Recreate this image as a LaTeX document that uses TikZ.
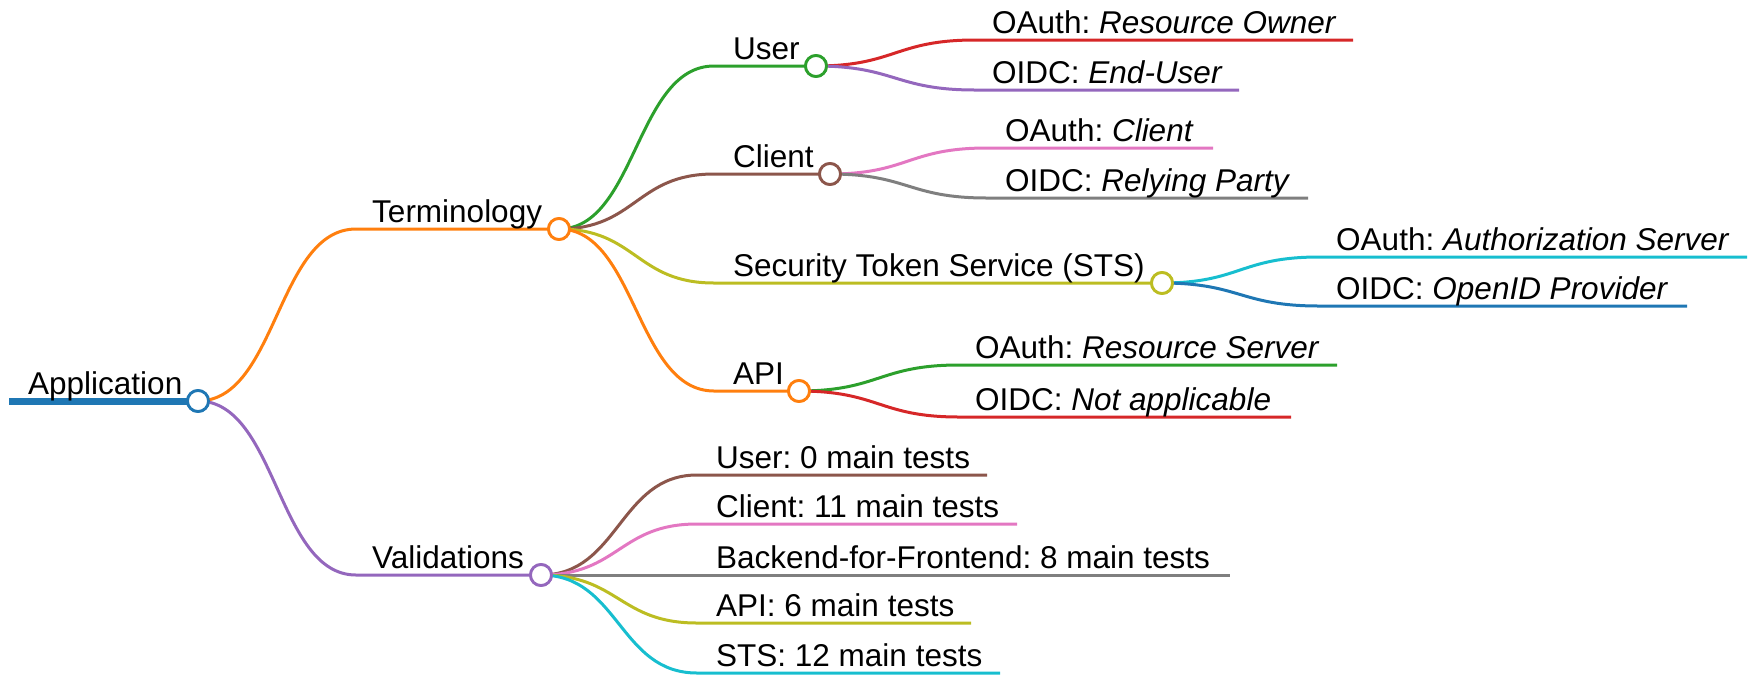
\documentclass[tikz,border=0pt]{standalone}
\usepackage{fontspec}
\setmainfont{Liberation Sans}
\usepackage{tikz}
\frenchspacing

\definecolor{cblue}{HTML}{1F77B4}
\definecolor{corange}{HTML}{FF7F0E}
\definecolor{cgreen}{HTML}{2CA02C}
\definecolor{cred}{HTML}{D62728}
\definecolor{cpurple}{HTML}{9467BD}
\definecolor{cbrown}{HTML}{8C564B}
\definecolor{cpink}{HTML}{E377C2}
\definecolor{cgray}{HTML}{7F7F7F}
\definecolor{colive}{HTML}{BCBD22}
\definecolor{ccyan}{HTML}{17BECF}

\begin{document}
\begin{tikzpicture}[x=1pt, y=-1pt]
    \tikzstyle{dot}=[circle, draw, fill=white, line width=2.8pt, inner sep=0pt, minimum size=21pt]
    \tikzstyle{ramo}=[line width=3pt]
    \tikzstyle{rotulo}=[anchor=base west, inner sep=0pt, font=\fontsize{31.5}{37}\selectfont]

    \useasboundingbox (0,0) rectangle (1758,689);

    % Pontos
    \coordinate (a0) at (9,401);
    \coordinate (t0) at (356,229);
    \coordinate (v0) at (356,575);
    \coordinate (u0) at (714,66);
    \coordinate (c0) at (714,174);
    \coordinate (s0) at (714,283);
    \coordinate (p0) at (714,391);
    \coordinate (uo0) at (975,40);   \coordinate (uo1) at (1353,40);
    \coordinate (ui0) at (975,90);   \coordinate (ui1) at (1239,90);
    \coordinate (co0) at (987,148);  \coordinate (co1) at (1213,148);
    \coordinate (ci0) at (987,198);  \coordinate (ci1) at (1308,198);
    \coordinate (so0) at (1319,257); \coordinate (so1) at (1747,257);
    \coordinate (si0) at (1319,306); \coordinate (si1) at (1687,306);
    \coordinate (po0) at (959,365);  \coordinate (po1) at (1337,365);
    \coordinate (pi0) at (959,417);  \coordinate (pi1) at (1291,417);
    \coordinate (v10) at (697,475);  \coordinate (v11) at (987,475);
    \coordinate (v20) at (697,524);  \coordinate (v21) at (1017,524);
    \coordinate (v30) at (697,575);  \coordinate (v31) at (1230,575);
    \coordinate (v40) at (697,623);  \coordinate (v41) at (971,623);
    \coordinate (v50) at (697,673);  \coordinate (v51) at (1000,673);

    % Nós
    \node[dot, draw=cblue] (app) at (198,401) {};
    \node[dot, draw=corange] (term) at (559,229) {};
    \node[dot, draw=cpurple] (valid) at (541,575) {};
    \node[dot, draw=cgreen] (user) at (816,66) {};
    \node[dot, draw=cbrown] (client) at (830,174) {};
    \node[dot, draw=colive] (sts) at (1162,283) {};
    \node[dot, draw=corange] (api) at (799,391) {};

    % Arestas
    \draw[cblue, line width=7pt] (a0) -- (app.center);
    \draw[ramo, corange] (app.center) .. controls (277,401) and (277,229) .. (t0) -- (term.center);
    \draw[ramo, cpurple] (app.center) .. controls (277,401) and (277,575) .. (v0) -- (valid.center);

    \draw[ramo, cgreen] (term.center) .. controls (636,229) and (636,66) .. (u0) -- (user.center);
    \draw[ramo, cbrown] (term.center) .. controls (636,229) and (636,174) .. (c0) -- (client.center);
    \draw[ramo, colive] (term.center) .. controls (636,229) and (636,283) .. (s0) -- (sts.center);
    \draw[ramo, corange] (term.center) .. controls (636,229) and (636,391) .. (p0) -- (api.center);

    \draw[ramo, cred] (user.center) .. controls (895,66) and (895,40) .. (uo0) -- (uo1);
    \draw[ramo, cpurple] (user.center) .. controls (895,66) and (895,90) .. (ui0) -- (ui1);
    \draw[ramo, cpink] (client.center) .. controls (908,174) and (908,148) .. (co0) -- (co1);
    \draw[ramo, cgray] (client.center) .. controls (908,174) and (908,198) .. (ci0) -- (ci1);
    \draw[ramo, ccyan] (sts.center) .. controls (1240,283) and (1240,257) .. (so0) -- (so1);
    \draw[ramo, cblue] (sts.center) .. controls (1240,283) and (1240,306) .. (si0) -- (si1);
    \draw[ramo, cgreen] (api.center) .. controls (879,391) and (879,365) .. (po0) -- (po1);
    \draw[ramo, cred] (api.center) .. controls (879,391) and (879,417) .. (pi0) -- (pi1);

    \draw[ramo, cbrown] (valid.center) .. controls (619,575) and (619,475) .. (v10) -- (v11);
    \draw[ramo, cpink] (valid.center) .. controls (619,575) and (619,524) .. (v20) -- (v21);
    \draw[ramo, cgray] (valid.center) -- (v30) -- (v31);
    \draw[ramo, colive] (valid.center) .. controls (619,575) and (619,623) .. (v40) -- (v41);
    \draw[ramo, ccyan] (valid.center) .. controls (619,575) and (619,673) .. (v50) -- (v51);

    % Círculos por cima
    \foreach \n/\c in {app/cblue, term/corange, valid/cpurple, user/cgreen, client/cbrown, sts/colive, api/corange}
        \node[dot, draw=\c] at (\n) {};

    % Rótulos
    \node[rotulo] (lapp) at (28,394) {Application};
    \node[rotulo] (lterm) at (372,222) {Terminology};
    \node[rotulo] (lvalid) at (372,568) {Validations};
    \node[rotulo] (luser) at (733,59) {User};
    \node[rotulo] (lclient) at (733,167) {Client};
    \node[rotulo] (lsts) at (733,276) {Security Token Service (STS)};
    \node[rotulo] (lapi) at (733,384) {API};

    \node[rotulo] (luo) at (992,33) {OAuth: \textit{Resource Owner}};
    \node[rotulo] (lui) at (992,83) {OIDC: \textit{End-User}};
    \node[rotulo] (lco) at (1005,141) {OAuth: \textit{Client}};
    \node[rotulo] (lci) at (1005,191) {OIDC: \textit{Relying Party}};
    \node[rotulo] (lso) at (1336,250) {OAuth: \textit{Authorization Server}};
    \node[rotulo] (lsi) at (1336,299) {OIDC: \textit{OpenID Provider}};
    \node[rotulo] (lpo) at (975,358) {OAuth: \textit{Resource Server}};
    \node[rotulo] (lpi) at (975,410) {OIDC: \textit{Not applicable}};

    \node[rotulo] (lv1) at (716,468) {User: 0 main tests};
    \node[rotulo] (lv2) at (716,517) {Client: 11 main tests};
    \node[rotulo] (lv3) at (716,568) {Backend-for-Frontend: 8 main tests};
    \node[rotulo] (lv4) at (716,616) {API: 6 main tests};
    \node[rotulo] (lv5) at (716,666) {STS: 12 main tests};
\end{tikzpicture}
\end{document}
